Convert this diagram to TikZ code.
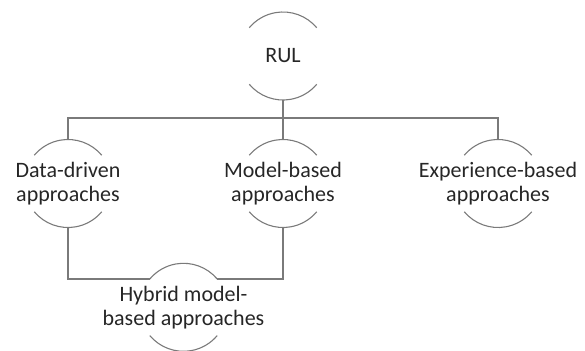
\documentclass[tikz,border=0pt]{standalone}
\usepackage{fontspec}
\setmainfont{Carlito}
\definecolor{linegray}{HTML}{7A7A7A}
\definecolor{textgray}{HTML}{262626}
\tikzset{
  concept/.style={rectangle, inner sep=0pt, minimum width=88bp, minimum height=88bp,
    align=center, text=textgray, font=\fontsize{22bp}{24bp}\selectfont},
  wire/.style={draw=linegray, line width=1.1bp},
}
\begin{document}
\begin{tikzpicture}[x=1bp, y=1bp]
  \useasboundingbox (0,0) rectangle (585,350);

  % concept nodes
  \node[concept] (rul) at (283,294) {RUL};
  \node[concept] (dd)  at (68,166.5)  {Data-driven\\approaches};
  \node[concept] (mb)  at (283,166.5) {Model-based\\approaches};
  \node[concept] (eb)  at (498,166.5) {Experience-based\\approaches};
  \node[concept] (hy)  at (183.5,42.7) {Hybrid model-\\based approaches};

  % upper and lower arcs around each concept
  \foreach \n in {rul,dd,mb,eb,hy} {
    \draw[wire] ([shift={(40:44)}]\n.center) arc[start angle=40, end angle=140, radius=44];
    \draw[wire] ([shift={(220:44)}]\n.center) arc[start angle=220, end angle=320, radius=44];
  }

  % tree connectors
  \coordinate (bus) at (283,232);
  \draw[wire] (rul.south) -- (bus) -- (mb.north);
  \draw[wire] (dd.north) |- (bus) -| (eb.north);

  % links into the hybrid concept
  \draw[wire] (dd.south) |- ([shift={(140:44)}]hy.center);
  \draw[wire] ([shift={(40:44)}]hy.center) -| (mb.south);
\end{tikzpicture}
\end{document}
